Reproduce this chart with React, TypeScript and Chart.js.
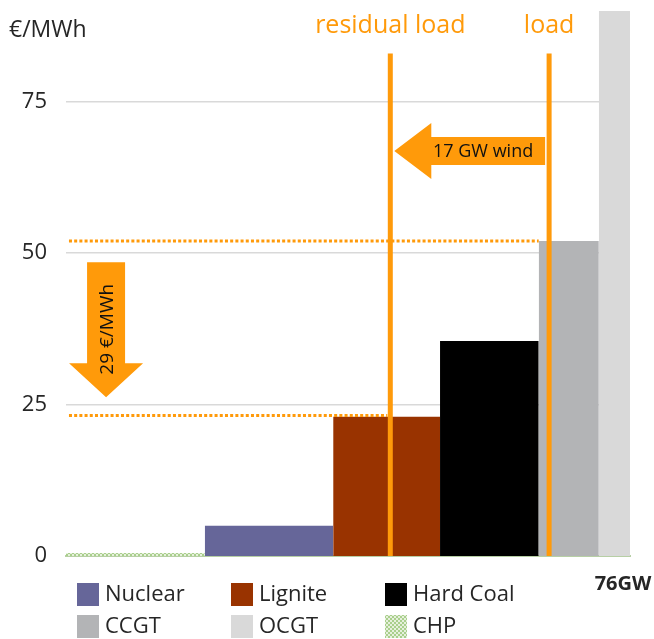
import React, { useEffect, useRef } from "react";
import { Chart, registerables } from "chart.js";

Chart.register(...registerables);

// ---- data ----
const categories = ["CHP", "Nuclear", "Lignite", "Hard Coal", "CCGT", "OCGT"];
const capacityGW = [18.7, 17.3, 14.4, 13.3, 8.1, 4.2];
const priceEUR = [0.5, 5, 23, 35.5, 52, 90];
const legendOrder = ["Nuclear", "Lignite", "Hard Coal", "CCGT", "OCGT", "CHP"];
const loadLabels = ["residual load", "load"];
const loadGW = [43.7, 65.1];
const loadLineTop = 83;
const priceLevels = [52, 23.2];
const priceLevelEndGW = [63.7, 43.3];
const yTicks = [0, 25, 50, 75];
const yMax = 90;
const xMax = 76;
const yTitle = "€/MWh";
const capacityLabel = "76GW";
const windLabel = "17 GW wind";
const windArrowPrice = 66.9;
const priceDropLabel = "29 €/MWh";
const priceDropGW = 5.4;
const priceDropRange = [48.5, 26.2];

// ---- styles ----
const ORANGE = "#FF9A0A";
const TEXT = "#262626";
const FONT = "'Open Sans', sans-serif";
const colorMap: Record<string, string> = {
  Nuclear: "#666699",
  Lignite: "#993300",
  "Hard Coal": "#000000",
  CCGT: "#B3B4B6",
  OCGT: "#D9D9D9",
  CHP: "#C5E0B4",
};

function makePattern(): CanvasPattern | string {
  const c = document.createElement("canvas");
  c.width = 4;
  c.height = 4;
  const g = c.getContext("2d");
  if (!g) return colorMap.CHP;
  g.fillStyle = "#E6F0DC";
  g.fillRect(0, 0, 4, 4);
  g.fillStyle = "#A9CF8C";
  g.fillRect(0, 0, 2, 2);
  g.fillRect(2, 2, 2, 2);
  return g.createPattern(c, "repeat") || colorMap.CHP;
}

export default function App() {
  const ref = useRef<HTMLCanvasElement | null>(null);

  useEffect(() => {
    if (!ref.current) return;
    const pattern = makePattern();
    const fillFor = (name: string) => (name === "CHP" ? pattern : colorMap[name]);

    const edges: number[] = [0];
    capacityGW.forEach((c, i) => edges.push(+(edges[i] + c).toFixed(2)));

    const rectSets = categories.map((name, i) => ({
      label: name,
      data: [
        { x: edges[i], y: priceEUR[i] },
        { x: edges[i + 1], y: priceEUR[i] },
      ],
      fill: "origin",
      backgroundColor: fillFor(name),
      borderWidth: 0,
      borderColor: "rgba(0,0,0,0)",
      pointRadius: 0,
      tension: 0,
      order: 10,
    }));

    const dottedSets = priceLevels.map((p, i) => ({
      label: "level" + i,
      data: [
        { x: 0.4, y: p },
        { x: priceLevelEndGW[i], y: p },
      ],
      fill: false,
      borderColor: ORANGE,
      borderWidth: 3,
      borderDash: [3, 2.2],
      pointRadius: 0,
      order: 5,
    }));

    const loadSets = loadGW.map((g, i) => ({
      label: loadLabels[i],
      data: [
        { x: g, y: 0 },
        { x: g, y: loadLineTop },
      ],
      fill: false,
      borderColor: ORANGE,
      borderWidth: 5,
      pointRadius: 0,
      order: 1,
    }));

    const overlay = {
      id: "overlay",
      afterDatasetsDraw(chart: any) {
        const ctx = chart.ctx as CanvasRenderingContext2D;
        const xs = chart.scales.x;
        const ys = chart.scales.y;
        ctx.save();

        // y title
        ctx.fillStyle = TEXT;
        ctx.font = `23px ${FONT}`;
        ctx.textAlign = "left";
        ctx.textBaseline = "middle";
        ctx.fillText(yTitle, 9, 30);

        // load labels
        ctx.fillStyle = ORANGE;
        ctx.font = `25px ${FONT}`;
        ctx.textAlign = "center";
        loadGW.forEach((g, i) => {
          ctx.fillText(loadLabels[i], xs.getPixelForValue(g), 26);
        });

        // horizontal wind arrow
        const tipX = xs.getPixelForValue(loadGW[0]) + 4;
        const tailX = xs.getPixelForValue(loadGW[1]) - 4;
        const ay = ys.getPixelForValue(windArrowPrice);
        const headLen = 37;
        ctx.fillStyle = ORANGE;
        ctx.beginPath();
        ctx.moveTo(tipX, ay);
        ctx.lineTo(tipX + headLen, ay - 28);
        ctx.lineTo(tipX + headLen, ay - 14);
        ctx.lineTo(tailX, ay - 14);
        ctx.lineTo(tailX, ay + 14);
        ctx.lineTo(tipX + headLen, ay + 14);
        ctx.lineTo(tipX + headLen, ay + 28);
        ctx.closePath();
        ctx.fill();
        ctx.fillStyle = "#111";
        ctx.font = `18px ${FONT}`;
        ctx.textAlign = "center";
        ctx.fillText(windLabel, tailX - 62, ay + 1);

        // vertical price drop arrow
        const vx = xs.getPixelForValue(priceDropGW);
        const topY = ys.getPixelForValue(priceDropRange[0]);
        const tipY = ys.getPixelForValue(priceDropRange[1]);
        const vHead = 34;
        ctx.fillStyle = ORANGE;
        ctx.beginPath();
        ctx.moveTo(vx - 19, topY);
        ctx.lineTo(vx + 19, topY);
        ctx.lineTo(vx + 19, tipY - vHead);
        ctx.lineTo(vx + 37, tipY - vHead);
        ctx.lineTo(vx, tipY);
        ctx.lineTo(vx - 37, tipY - vHead);
        ctx.lineTo(vx - 19, tipY - vHead);
        ctx.closePath();
        ctx.fill();
        ctx.save();
        ctx.translate(vx + 2, topY + 67);
        ctx.rotate(-Math.PI / 2);
        ctx.fillStyle = "#111";
        ctx.font = `19px ${FONT}`;
        ctx.textAlign = "center";
        ctx.textBaseline = "middle";
        ctx.fillText(priceDropLabel, 0, 0);
        ctx.restore();

        // capacity label
        ctx.fillStyle = TEXT;
        ctx.font = `bold 20px ${FONT}`;
        ctx.textAlign = "center";
        ctx.textBaseline = "middle";
        ctx.fillText(capacityLabel, xs.getPixelForValue(xMax) - 7, 584);

        // legend
        const cols = [77, 231, 385];
        const rows = [583, 615];
        ctx.font = `22px ${FONT}`;
        ctx.textAlign = "left";
        ctx.textBaseline = "middle";
        legendOrder.forEach((name, i) => {
          const cx = cols[i % 3];
          const cy = rows[Math.floor(i / 3)];
          ctx.fillStyle = fillFor(name) as any;
          ctx.fillRect(cx, cy, 22, 23);
          ctx.fillStyle = TEXT;
          ctx.fillText(name, cx + 28, cy + 12);
        });

        ctx.restore();
      },
    };

    const chart = new Chart(ref.current, {
      type: "line",
      data: { datasets: [...loadSets, ...dottedSets, ...rectSets] as any },
      options: {
        animation: false,
        responsive: false,
        devicePixelRatio: 1,
        layout: { padding: { top: 11, right: 24, bottom: 83, left: 0 } },
        plugins: { legend: { display: false }, tooltip: { enabled: false } },
        scales: {
          x: {
            type: "linear",
            min: 0,
            max: xMax,
            ticks: { display: false },
            grid: { display: false, drawTicks: false },
            border: { display: true, color: "#B7CFA5", width: 2 },
            afterFit: (s: any) => {
              s.height = 0;
              s.paddingLeft = 0;
              s.paddingRight = 0;
            },
          },
          y: {
            type: "linear",
            min: 0,
            max: yMax,
            afterBuildTicks: (s: any) => {
              s.ticks = yTicks.map((v) => ({ value: v }));
            },
            afterFit: (s: any) => {
              s.width = 66;
              s.paddingTop = 0;
              s.paddingBottom = 0;
            },
            ticks: {
              padding: 19,
              color: TEXT,
              font: { family: FONT, size: 22 },
            },
            grid: {
              drawTicks: false,
              color: (c: any) => (c.tick && c.tick.value === 0 ? "rgba(0,0,0,0)" : "#D9D9D9"),
              lineWidth: 1.5,
            },
            border: { display: false },
          },
        },
      } as any,
      plugins: [overlay],
    });
    return () => chart.destroy();
  }, []);

  return (
    <div style={{ position: "absolute", left: 0, top: 0, width: 654, height: 639, background: "#fff" }}>
      <canvas ref={ref} width={654} height={639} style={{ display: "block" }} />
    </div>
  );
}
